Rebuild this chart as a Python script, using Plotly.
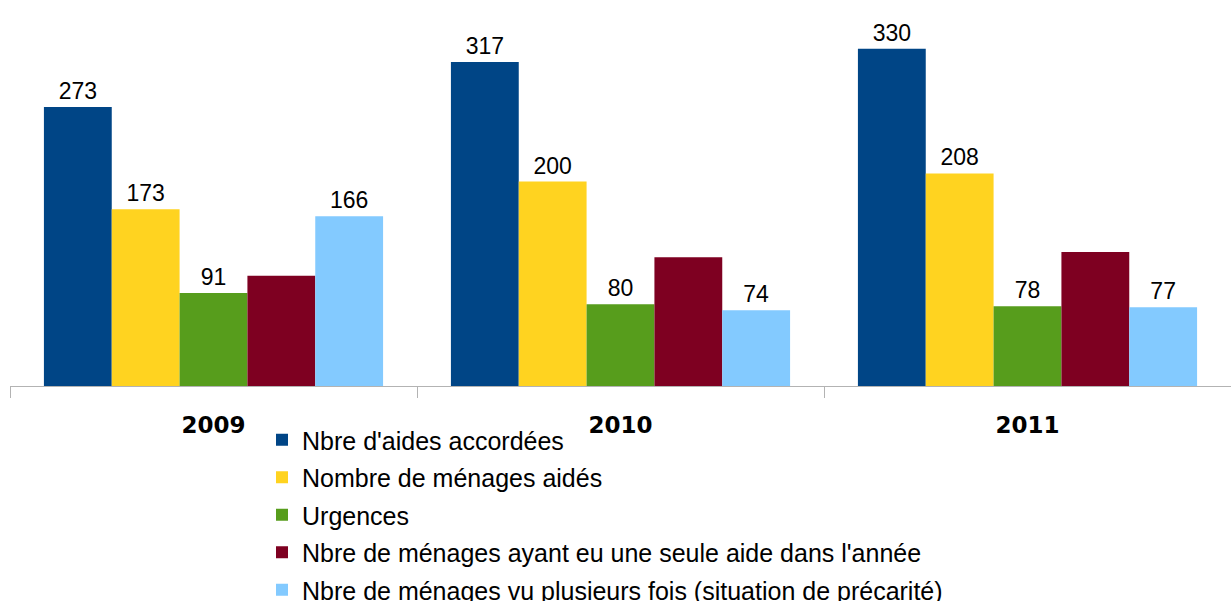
import plotly.graph_objects as go

years = ["2009", "2010", "2011"]
series_names = [
    "Nbre d'aides accordées",
    "Nombre de ménages aidés",
    "Urgences",
    "Nbre de ménages ayant eu une seule aide dans l'année",
    "Nbre de ménages vu plusieurs fois (situation de précarité)",
]
aides = [273, 317, 330]
menages_aides = [173, 200, 208]
urgences = [91, 80, 78]
une_seule_aide = [108, 126, 131]
plusieurs_fois = [166, 74, 77]
series_values = [aides, menages_aides, urgences, une_seule_aide, plusieurs_fois]
show_labels = [True, True, True, False, True]
colors = ["#004586", "#ffd320", "#579d1c", "#7e0021", "#83caff"]

fig = go.Figure()
for i, (name, vals, col, lab) in enumerate(zip(series_names, series_values, colors, show_labels)):
    txt = [str(v) for v in vals] if lab else None
    fig.add_trace(go.Bar(
        x=years, y=vals, name=name, marker_color=col, marker_line_width=0,
        text=txt, textposition="outside", cliponaxis=False, constraintext="none",
        textfont=dict(family="Liberation Sans, Arial", size=23, color="#000000"),
        legendgroup=f"g{i}",
        hoverinfo="skip",
    ))

fig.update_layout(
    width=1231, height=601,
    margin=dict(l=10, r=0, t=0, b=215, autoexpand=False),
    paper_bgcolor="white", plot_bgcolor="white",
    barmode="group", bargap=0.1667, bargroupgap=0,
    showlegend=True,
    legend=dict(
        xref="container", yref="container",
        x=262 / 1231, y=1 - 417 / 601, xanchor="left", yanchor="top",
        font=dict(family="Liberation Sans, Arial", size=25, color="#000000"),
        tracegroupgap=2, traceorder="grouped",
        bgcolor="rgba(0,0,0,0)",
    ),
    uniformtext=dict(mode=False),
)
fig.update_xaxes(
    type="category", tickson="boundaries", ticks="outside", ticklen=11,
    tickcolor="#b3b3b3", tickwidth=1,
    showline=True, linecolor="#b3b3b3", linewidth=1,
    tickfont=dict(family="DejaVu Sans", size=23, color="#000000", weight="bold"),
    ticklabelstandoff=18,
    showgrid=False,
)
fig.update_yaxes(range=[0, 377.7], visible=False, showgrid=False, zeroline=False)

fig.write_html(
    "out.html",
    config={"displayModeBar": False},
    post_script="document.body.style.margin='0';document.body.style.padding='0';",
)
